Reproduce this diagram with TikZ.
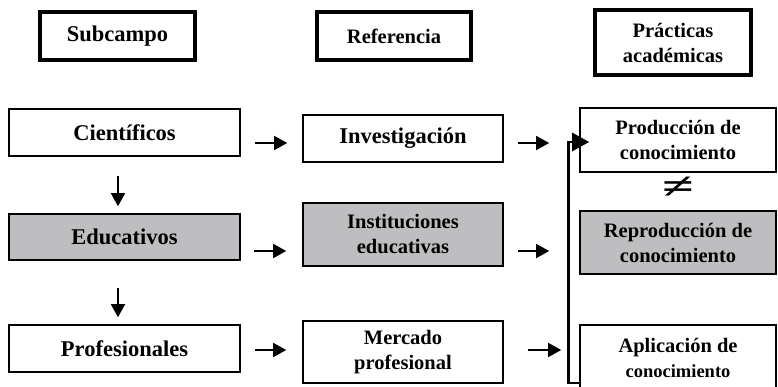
\documentclass[tikz,border=0pt]{standalone}
\usepackage{fontspec}
\setmainfont{Liberation Serif}
\usetikzlibrary{arrows.meta}
\definecolor{gris}{RGB}{190,190,192}

\begin{document}
\begin{tikzpicture}[x=1pt, y=-1pt,
	titulo/.style={draw, line width=4.5pt, align=center, inner sep=0pt},
	caja/.style={draw, line width=1.6pt, align=center, inner sep=0pt},
	grande/.style={font=\bfseries\fontsize{22.5}{26}\selectfont},
	normal/.style={font=\bfseries\fontsize{20.5}{25}\selectfont},
	sombra/.style={fill=gris},
	flecha/.style={line width=1.6pt, -{Triangle[length=13pt,width=14pt]}},
	corchete/.style={line width=2.6pt, -{Triangle[length=17pt,width=18pt]}}]
				\useasboundingbox (0,0) rectangle (778,387);
				%Encabezados
				\node[titulo, grande, minimum width=155pt, minimum height=48pt] (sub) at (117.5,36) {Subcampo};
				\node[titulo, normal, minimum width=154pt, minimum height=48pt] (ref) at (394,36) {Referencia};
				\node[titulo, normal, minimum width=156pt, minimum height=65pt] (prac) at (673,42.5) {Prácticas\\académicas};
				%Subcampos
				\node[caja, grande, minimum width=231pt, minimum height=47pt] (cie) at (124.5,132.5) {Científicos};
				\node[caja, grande, sombra, minimum width=231pt, minimum height=46pt] (edu) at (124.5,237) {Educativos};
				\node[caja, grande, minimum width=231pt, minimum height=47pt] (pro) at (124.5,348.5) {Profesionales};
				%Referencias
				\node[caja, grande, minimum width=200pt, minimum height=47pt] (inv) at (403,138.5) {Investigación};
				\node[caja, normal, sombra, minimum width=200pt, minimum height=63pt] (ins) at (403,234.5) {Instituciones\\educativas};
				\node[caja, normal, minimum width=200pt, minimum height=62pt] (mer) at (403,352) {Mercado\\profesional};
				%Practicas
				\node[caja, normal, minimum width=196pt, minimum height=64pt] (prod) at (678,140) {Producción de\\conocimiento};
				\node[caja, normal, sombra, minimum width=196pt, minimum height=63pt] (repr) at (678,242.5) {Reproducción de\\conocimiento};
				\node[caja, normal, minimum width=196pt, minimum height=66pt] (apl) at (678,358) {Aplicación de\\{\fontsize{18.5}{22}\selectfont conocimiento}};
				\node (dist) at (678,188) {\bfseries\fontsize{36}{36}\selectfont\scalebox{1.6}[1]{≠}};
				%Flechas horizontales
				\draw[flecha, shorten <=14pt, shorten >=15pt] ([yshift=-10.5pt]cie.east) -- ([yshift=-10.5pt]cie.east -| inv.west);
				\draw[flecha, shorten <=14pt, shorten >=30pt] ([yshift=-4.5pt]inv.east) -- ([yshift=-4.5pt]inv.east -| prod.west);
				\draw[flecha, shorten <=13pt, shorten >=16pt] ([yshift=-14pt]edu.east) -- ([yshift=-14pt]edu.east -| ins.west);
				\draw[flecha, shorten <=14pt, shorten >=30pt] ([yshift=-16.5pt]ins.east) -- ([yshift=-16.5pt]ins.east -| repr.west);
				\draw[flecha, shorten <=14pt, shorten >=16pt] ([yshift=-1.5pt]pro.east) -- ([yshift=-1.5pt]pro.east -| mer.west);
				\draw[flecha, shorten <=24pt, shorten >=18pt] ([yshift=2pt]mer.east) -- ([yshift=2pt]mer.east -| apl.west);
				%Flechas verticales
				\draw[flecha, shorten <=19pt, shorten >=7pt] ([xshift=-6.5pt]cie.south) -- ([xshift=-6.5pt]edu.north);
				\draw[flecha, shorten <=27pt, shorten >=7pt] ([xshift=-6.5pt]edu.south) -- ([xshift=-6.5pt]pro.north);
				%Retorno
				\coordinate (esquina) at ([yshift=-25pt]apl.west);
				\draw[corchete] (esquina) -- ++(-11,0) |- ([xshift=10pt,yshift=-2pt]prod.west);
\end{tikzpicture}
\end{document}
